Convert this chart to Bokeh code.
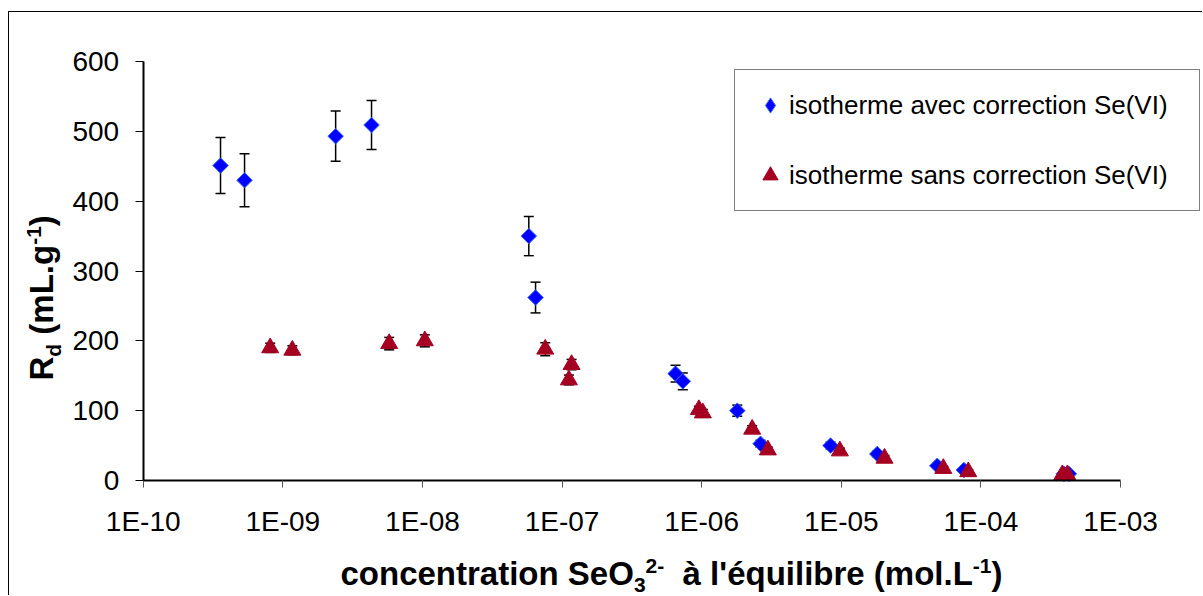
import math
import numpy as np
from bokeh.plotting import figure
from bokeh.models import (Range1d, FixedTicker, CustomJSTickFormatter, Whisker, TeeHead,
                          ColumnDataSource, Legend, LegendItem, Label)
from bokeh.embed import file_html
from bokeh.resources import INLINE

# ---------------- data ----------------
x_ticks = [1e-10, 1e-9, 1e-8, 1e-7, 1e-6, 1e-5, 1e-4, 1e-3]
x_tick_labels = ["1E-10", "1E-09", "1E-08", "1E-07", "1E-06", "1E-05", "1E-04", "1E-03"]
y_ticks = [0, 100, 200, 300, 400, 500, 600]

series_labels = ["isotherme avec correction Se(VI)", "isotherme sans correction Se(VI)"]

avec_conc = [3.58e-10, 5.32e-10, 2.39e-9, 4.32e-9, 5.78e-8, 6.46e-8, 6.50e-7, 7.33e-7,
             1.80e-6, 2.64e-6, 8.38e-6, 1.81e-5, 4.87e-5, 7.55e-5, 3.93e-4, 4.27e-4]
avec_rd = [451, 430, 493, 509, 350, 262, 153, 142, 100, 52.6, 50, 38, 21, 15, 9.6, 9.6]
avec_err = [40, 38, 36, 35, 28, 22, 12, 12, 8, 5, 5, 4, 3, 2, 2, 2]

sans_conc = [8.12e-10, 1.17e-9, 5.78e-9, 1.04e-8, 7.58e-8, 1.17e-7, 1.12e-7, 9.55e-7, 1.02e-6,
             2.30e-6, 2.98e-6, 9.77e-6, 2.04e-5, 5.38e-5, 8.12e-5, 3.83e-4, 4.16e-4]
sans_rd = [190, 186.5, 196, 200, 188, 166, 144, 101.4, 96.7, 73.4, 43.7, 42.3, 31.8, 17.2, 12.5, 8.2, 8.2]
sans_err = [6.6, 6.4, 8.9, 8.6, 9.3, 7.4, 7.0, 5, 5, 5, 4, 4, 4, 3, 3, 2, 2]

x_title = [("concentration SeO", "n"), ("3", "sub"), ("2-", "sup"), ("  ", "n"),
           ("à l'équilibre (mol.L", "n"), ("-1", "sup"), (")", "n")]
y_title = [("R", "n"), ("d", "sub"), (" ", "n"), ("(mL.g", "n"), ("-1", "sup"), (")", "n")]

# ---------------- geometry (page pixels) ----------------
PAGE_X0, PAGE_Y0 = 9, 12            # canvas origin on the page (after margin + border)
W, H = 1194, 584
AX_LEFT, AX_RIGHT = 142.7, 1120.0   # page x of first / last x tick
AX_BOTTOM, AX_TOP = 480.0, 61.0     # page y of first / last y tick

lx0, lx1 = math.log10(x_ticks[0]), math.log10(x_ticks[-1])
dec_per_px = (lx1 - lx0) / (AX_RIGHT - AX_LEFT)
x_start = 10 ** (lx0 - (AX_LEFT - PAGE_X0) * dec_per_px)
x_end = 10 ** (lx1 + (PAGE_X0 + W - AX_RIGHT) * dec_per_px)
val_per_px = (y_ticks[-1] - y_ticks[0]) / (AX_BOTTOM - AX_TOP)
y_start = y_ticks[0] - (PAGE_Y0 + H - AX_BOTTOM) * val_per_px
y_end = y_ticks[-1] + (AX_TOP - PAGE_Y0) * val_per_px

# ---------------- styles ----------------
BLUE = "#0000FF"
BLUE_EDGE = "#3D6CF5"
RED = "#A50021"
FONT = "Liberation Sans"

p = figure(width=W, height=H, x_axis_type="log",
           x_range=Range1d(x_start, x_end), y_range=Range1d(y_start, y_end),
           output_backend="svg", toolbar_location=None,
           min_border_left=0, min_border_right=0, min_border_top=0, min_border_bottom=0)
p.styles = {"margin-left": "8px", "margin-top": "11px",
            "border-left": "1px solid #000", "border-top": "1px solid #000"}
p.outline_line_color = None
p.xgrid.visible = False
p.ygrid.visible = False
p.background_fill_color = "white"
p.border_fill_color = "white"

# axes
p.xaxis.ticker = FixedTicker(ticks=x_ticks, minor_ticks=[])
p.xaxis.formatter = CustomJSTickFormatter(
    args=dict(tick_values=x_ticks, tick_labels=x_tick_labels), code="""
const i = tick_values.findIndex(t => Math.abs(Math.log10(t) - Math.log10(tick)) < 1e-6);
return i >= 0 ? tick_labels[i] : "";
""")
p.yaxis.ticker = FixedTicker(ticks=y_ticks, minor_ticks=[])
p.xaxis.fixed_location = y_ticks[0]
p.xaxis.bounds = (x_ticks[0], x_ticks[-1])
p.yaxis.fixed_location = x_ticks[0]
p.yaxis.bounds = (y_ticks[0], y_ticks[-1])
for ax in (p.xaxis[0], p.yaxis[0]):
    ax.axis_line_color = "black"
    ax.axis_line_width = 2
    ax.major_tick_in = 0
    ax.minor_tick_line_color = None
    ax.major_label_text_font = FONT
    ax.major_label_text_font_size = "28px"
    ax.major_label_text_color = "black"
p.xaxis.major_tick_out = 7
p.xaxis.major_tick_line_color = "#555555"
p.xaxis.major_tick_line_width = 1
p.xaxis.major_label_standoff = 18
p.yaxis.major_tick_out = 8
p.yaxis.major_tick_line_color = "black"
p.yaxis.major_tick_line_width = 1
p.yaxis.major_label_standoff = 16

# error bars
src_a = ColumnDataSource(dict(x=avec_conc, y=avec_rd,
                              lo=[v - e for v, e in zip(avec_rd, avec_err)],
                              hi=[v + e for v, e in zip(avec_rd, avec_err)]))
src_s = ColumnDataSource(dict(x=sans_conc, y=sans_rd,
                              lo=[v - e for v, e in zip(sans_rd, sans_err)],
                              hi=[v + e for v, e in zip(sans_rd, sans_err)]))
for src in (src_a, src_s):
    w = Whisker(base="x", upper="hi", lower="lo", source=src, dimension="height",
                line_color="black", line_width=1.5, level="underlay",
                upper_head=TeeHead(size=10, line_color="black", line_width=1.5),
                lower_head=TeeHead(size=10, line_color="black", line_width=1.5))
    p.add_layout(w)

# markers
p.scatter("x", "y", source=src_a, marker="square", angle=math.pi / 4, size=11,
          fill_color=BLUE, line_color=BLUE_EDGE, line_width=1)
p.scatter("x", "y", source=src_s, marker="triangle", size=17,
          fill_color=RED, line_color=RED, line_width=1)

# legend keys (not drawn in the plot area: NaN positions)
key_a = p.scatter(x=[np.nan], y=[np.nan], marker="diamond", size=15,
                  fill_color=BLUE, line_color=BLUE_EDGE, line_width=1)
key_s = p.scatter(x=[np.nan], y=[np.nan], marker="triangle", size=15,
                  fill_color=RED, line_color=RED, line_width=1)
legend = Legend(items=[LegendItem(label=series_labels[0], renderers=[key_a]),
                       LegendItem(label=series_labels[1], renderers=[key_s])],
                location=(734 - PAGE_X0, PAGE_Y0 + H - 211), orientation="vertical",
                label_text_font=FONT, label_text_font_size="26px", label_text_color="black",
                glyph_width=38, glyph_height=38, label_height=38, label_width=394,
                label_standoff=0, padding=16, spacing=32, margin=0,
                border_line_color="black", border_line_width=1,
                background_fill_color="white", background_fill_alpha=1)
p.add_layout(legend)

# axis titles composed of pieces (sub/superscripts)
ADV = {' ': 278, '(': 333, ')': 333, '-': 333, '.': 278, "'": 238, '1': 556, '2': 556,
       '3': 556, 'L': 611, 'O': 778, 'R': 722, 'S': 667, 'a': 556, 'b': 611, 'c': 556,
       'd': 611, 'e': 556, 'g': 611, 'i': 278, 'l': 278, 'm': 889, 'n': 611, 'o': 611,
       'q': 611, 'r': 389, 't': 333, 'u': 611, 'à': 556, 'é': 556}
F_BIG, F_SMALL = 33, 21
SHIFT = {"n": 0, "sub": -7, "sup": 12}
MID = 0.35   # distance from baseline to the em-box middle, in em


def width(text, size):
    return sum(ADV.get(c, 556) for c in text) * size / 1000.0


def place(pieces, page_x, page_y, rotated):
    # (page_x, page_y): start of the baseline on the page
    x0 = page_x - PAGE_X0
    y0 = PAGE_Y0 + H - page_y
    pos = 0.0
    for text, kind in pieces:
        size = F_BIG if kind == "n" else F_SMALL
        up = SHIFT[kind] + MID * size
        if text.strip():
            if rotated:
                lx, ly, ang = x0 - up, y0 + pos, math.pi / 2
            else:
                lx, ly, ang = x0 + pos, y0 + up, 0
            p.add_layout(Label(x=lx, y=ly, x_units="screen", y_units="screen", text=text,
                               angle=ang, text_font=FONT, text_font_style="bold",
                               text_font_size=f"{size}px", text_color="black",
                               text_align="left", text_baseline="middle"))
        pos += width(text, size)


place(x_title, 340, 585, rotated=False)
place(y_title, 53, 380, rotated=True)

open("out.html", "w").write(file_html(p, INLINE))
